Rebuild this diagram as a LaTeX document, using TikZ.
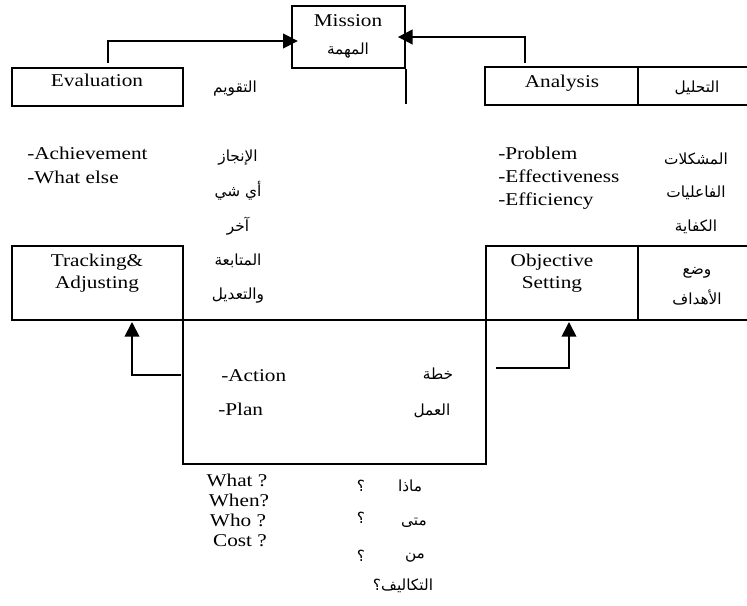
\documentclass[tikz,border=0pt]{standalone}
\usepackage{fontspec}
\setmainfont{Liberation Serif}[FakeStretch=1.18]
\newfontfamily\arabicfont[Script=Arabic]{DejaVu Sans}
\TeXXeTstate=1
\usetikzlibrary{arrows.meta}

\begin{document}
\begin{tikzpicture}[
  x=0.75pt, y=-0.75pt,
  box/.style={draw, line width=1.3pt, inner sep=0pt},
  txt/.style={font=\fontsize{13.5}{16}\selectfont, inner sep=0pt, anchor=base},
  lt/.style={txt, anchor=base west},
  ar/.style={font=\arabicfont\fontsize{11.5}{14}\selectfont, inner sep=0pt, anchor=base},
  flow/.style={-{Triangle[length=11pt,width=11pt]}, line width=1.3pt},
]
\useasboundingbox (0,0) rectangle (747,606);

% boxes
\node[box, minimum width=84.75pt, minimum height=46.5pt] (mission) at (348.5,37) {};
\node[box, minimum width=128.25pt, minimum height=28.5pt] (eval) at (97.5,87) {};
\node[box, minimum width=198.75pt, minimum height=28.5pt] (analysis) at (617.5,86) {};
\node[box, minimum width=128.25pt, minimum height=55.5pt] (track) at (97.5,283) {};
\node[box, minimum width=198pt, minimum height=55.5pt] (objective) at (618,283) {};
\node[box, minimum width=227.25pt, minimum height=108pt] (action) at (334.5,392) {};

\draw[line width=1.3pt] (mission.south east) -- ++(0,35);
\coordinate (div) at (638,0);
\draw[line width=1.3pt] (div |- analysis.north) -- (div |- analysis.south);
\draw[line width=1.3pt] (div |- objective.north) -- (div |- objective.south);

% arrows
\coordinate (estem) at (108,63);
\coordinate (astem) at (525,63);
\coordinate (lfoot) at (181,375);
\coordinate (ltip) at (132,322);
\coordinate (rfoot) at (496,368);
\coordinate (rtip) at (569,322);
\draw[flow, shorten >=-5pt] (estem) |- ([yshift=-3pt]mission.west);
\draw[flow, shorten >=-6pt] (astem) |- (mission.east);
\draw[flow] (lfoot) -| (ltip);
\draw[flow] (rfoot) -| (rtip);

% top row
\node[txt] (mis-en) at (348,27) {Mission};
\node[ar] (mis-ar) at (348,55) {\beginR المهمة\endR};
\node[txt] (eval-en) at (97,87) {Evaluation};
\node[ar] (eval-ar) at (235,93) {\beginR التقويم\endR};
\node[txt] (ana-en) at (562,88) {Analysis};
\node[ar] (ana-ar) at (697,93) {\beginR التحليل\endR};

% left column
\node[lt] (ach) at (27,160) {-Achievement};
\node[lt] (else) at (27,184) {-What else};
\node[ar] (l1) at (238,162) {\beginR الإنجاز\endR};
\node[ar] (l2) at (238,197) {\beginR أي شي\endR};
\node[ar] (l3) at (238,232) {\beginR آخر\endR};
\node[ar] (l4) at (238,266) {\beginR المتابعة\endR};
\node[ar] (l5) at (238,300) {\beginR والتعديل\endR};
\node[txt] (trk1) at (97,267) {Tracking\&};
\node[txt] (trk2) at (97,289) {Adjusting};

% right column
\node[lt] (prob) at (498,160) {-Problem};
\node[lt] (effe) at (498,183) {-Effectiveness};
\node[lt] (effi) at (498,206) {-Efficiency};
\node[ar] (r1) at (696,165) {\beginR المشكلات\endR};
\node[ar] (r2) at (696,198) {\beginR الفاعليات\endR};
\node[ar] (r3) at (696,232) {\beginR الكفاية\endR};
\node[ar] (r4) at (697,275) {\beginR وضع\endR};
\node[ar] (r5) at (697,305) {\beginR الأهداف\endR};
\node[txt] (obj1) at (552,267) {Objective};
\node[txt] (obj2) at (552,289) {Setting};

% action plan
\node[lt] (act) at (221,382) {-Action};
\node[lt] (plan) at (218,416) {-Plan};
\node[ar] (act-ar) at (438,379) {\beginR خطة\endR};
\node[ar] (plan-ar) at (432,416) {\beginR العمل\endR};

% questions
\node[txt] (q1) at (237,486) {What ?};
\node[txt] (q2) at (239,506) {When?};
\node[txt] (q3) at (238,526) {Who ?};
\node[txt] (q4) at (240,546) {Cost ?};
\node[ar] (a1) at (410,491) {\beginR ماذا\endR};
\node[ar] (a2) at (414,525) {\beginR متى\endR};
\node[ar] (a3) at (415,558) {\beginR من\endR};
\node[ar] (a4) at (403,590) {\beginR التكاليف؟\endR};
\node[ar] (m1) at (361,491) {\beginR ؟\endR};
\node[ar] (m2) at (361,523) {\beginR ؟\endR};
\node[ar] (m3) at (361,561) {\beginR ؟\endR};
\end{tikzpicture}
\end{document}
